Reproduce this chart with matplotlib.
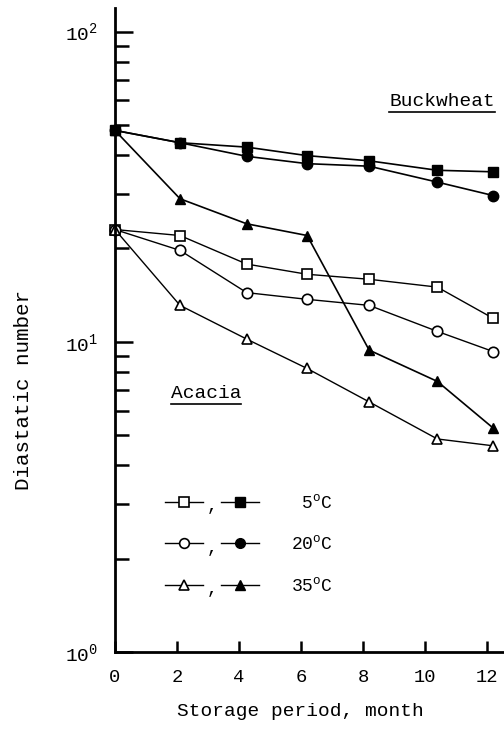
import matplotlib
matplotlib.use("Agg")
import matplotlib.pyplot as plt
from matplotlib.lines import Line2D
from matplotlib.legend_handler import HandlerTuple
from matplotlib.ticker import LogLocator, NullFormatter

plt.rcParams['font.family'] = ['Liberation Mono', 'DejaVu Sans Mono']
plt.rcParams['mathtext.fontset'] = 'custom'
plt.rcParams['mathtext.rm'] = 'Liberation Mono'

# storage time, months
months = [0, 2.1, 4.25, 6.2, 8.2, 10.4, 12.2]

# buckwheat honey (filled markers)
buck_5 = [48, 43.8, 42.4, 39.8, 38.3, 35.7, 35.3]
buck_20 = [48, 43.8, 39.6, 37.5, 36.8, 32.7, 29.6]
buck_35 = [48, 28.9, 24.0, 22.0, 9.4, 7.45, 5.27]

# acacia honey (open markers)
acac_5 = [23.0, 22.0, 17.8, 16.5, 15.9, 15.0, 11.9]
acac_20 = [23.0, 19.7, 14.4, 13.7, 13.1, 10.8, 9.3]
acac_35 = [23.0, 13.1, 10.2, 8.2, 6.4, 4.86, 4.62]

temps = [r' 5$\mathregular{^{o}}$C', r'20$\mathregular{^{o}}$C',
         r'35$\mathregular{^{o}}$C']
markers = ['s', 'o', '^']
xticks = [0, 2, 4, 6, 8, 10, 12]

fig = plt.figure(figsize=(5.04, 7.33), dpi=100)
ax = fig.add_axes([0.228, 0.1105, 0.772, 0.8785])

buck = [buck_5, buck_20, buck_35]
acac = [acac_5, acac_20, acac_35]
handles = []
for i in range(3):
    ax.plot(months, buck[i], color='black', lw=1.2, marker=markers[i],
            ms=7.5, mfc='black', mec='black', clip_on=False)
    ax.plot(months, acac[i], color='black', lw=1.0, marker=markers[i],
            ms=7.5, mfc='white', mec='black', mew=1.2, clip_on=False)
    h_open = Line2D([], [], color='black', lw=1.0, marker=markers[i], ms=7,
                    mfc='white', mec='black', mew=1.2)
    h_fill = Line2D([], [], color='black', lw=1.0, marker=markers[i], ms=7,
                    mfc='black', mec='black')
    handles.append((h_open, h_fill))

ax.set_yscale('log')
ax.set_ylim(1, 119)
ax.set_xlim(0, 12.55)

ax.set_xticks(xticks)
ax.set_xticklabels([str(t) for t in xticks])
ax.set_yticks([1, 10, 100])
ax.set_yticklabels([r'$\mathregular{10^{0}}$', r'$\mathregular{10^{1}}$',
                    r'$\mathregular{10^{2}}$'])
ax.yaxis.set_minor_locator(LogLocator(base=10, subs=range(2, 10)))
ax.yaxis.set_minor_formatter(NullFormatter())

ax.tick_params(axis='x', direction='in', length=8, width=1.8, pad=12,
               labelsize=13.5)
ax.tick_params(axis='y', which='major', direction='in', length=13,
               width=1.8, pad=12, labelsize=14)
ax.tick_params(axis='y', which='minor', direction='in', length=10,
               width=1.8)

for s in ['top', 'right']:
    ax.spines[s].set_visible(False)
for s in ['left', 'bottom']:
    ax.spines[s].set_linewidth(2.0)

fig.text(0.595, 0.018, 'Storage period, month', ha='center', va='bottom',
         fontsize=14)
fig.text(0.047, 0.468, 'Diastatic number', rotation=90, ha='center',
         va='center', fontsize=15)

t_buck = ax.text(0.705, 0.855, 'Buckwheat', transform=ax.transAxes,
                 fontsize=14, ha='left', va='center')
t_acac = ax.text(0.143, 0.401, 'Acacia', transform=ax.transAxes,
                 fontsize=14, ha='left', va='center')

leg = ax.legend(handles, temps, handler_map={tuple: HandlerTuple(ndivide=None, pad=0.95)},
                loc='center left', bbox_to_anchor=(0.129, 0.167),
                frameon=False, borderpad=0, borderaxespad=0,
                handlelength=5.2, handletextpad=1.8, labelspacing=1.3,
                prop={'family': 'Liberation Mono', 'size': 13})

for yy in [0.226, 0.161, 0.097]:
    ax.text(0.25, yy, ',', transform=ax.transAxes, fontsize=13,
            ha='center', va='center')

# underline the honey labels
fig.canvas.draw()
r = fig.canvas.get_renderer()
for t in [t_buck, t_acac]:
    bb = t.get_window_extent(renderer=r)
    x0, y0 = fig.transFigure.inverted().transform((bb.x0, bb.y0 - 2))
    x1, _ = fig.transFigure.inverted().transform((bb.x1, bb.y0 - 2))
    fig.add_artist(Line2D([x0, x1], [y0, y0], color='black', lw=1.2,
                          transform=fig.transFigure))

fig.savefig('out.png', dpi=100)
